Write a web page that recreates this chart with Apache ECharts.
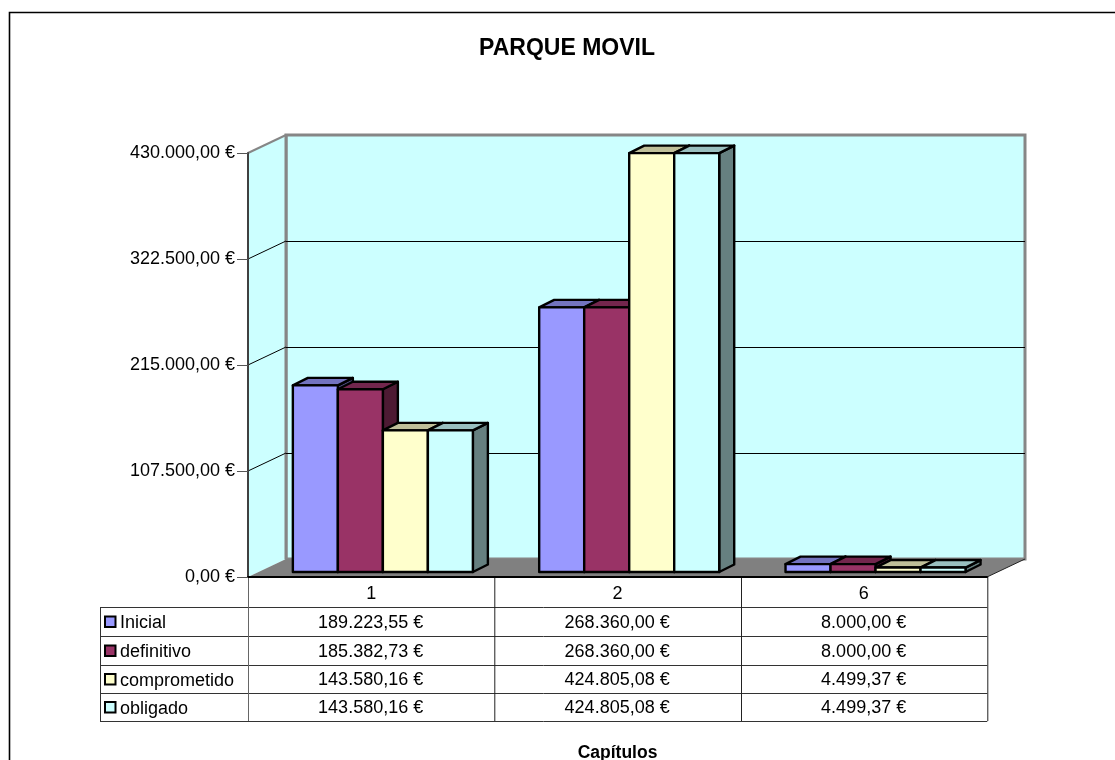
<!DOCTYPE html>
<html><head><meta charset="utf-8">
<style>html,body{margin:0;padding:0;background:#fff}#c{width:1115px;height:760px}</style>
<script src="https://cdn.jsdelivr.net/npm/echarts@6/dist/echarts.min.js"></script>
</head><body><div id="c"></div>
<script>
const categories = ['1', '2', '6'];
const seriesNames = ['Inicial', 'definitivo', 'comprometido', 'obligado'];
const inicial = [189223.55, 268360.00, 8000.00];
const definitivo = [185382.73, 268360.00, 8000.00];
const comprometido = [143580.16, 424805.08, 4499.37];
const obligado = [143580.16, 424805.08, 4499.37];
const axisMax = 430000;
const axisStep = 107500;
const faceColors = ['#9999FF', '#993366', '#FFFFCC', '#CCFFFF'];
const topColors = ['#7373BF', '#73264D', '#BFBF99', '#99BFBF'];
const sideColors = ['#4D4D80', '#4D1A33', '#808066', '#668080'];
const allValues = [inicial, definitivo, comprometido, obligado];

const FONT = 'Liberation Sans, Arial, sans-serif';
const TEXT_SIZE = 18;
const euro = v => {
  const [i, d] = v.toFixed(2).split('.');
  return i.replace(/\B(?=(\d{3})+$)/g, '.') + ',' + d + ' €';
};
// 3D projection of the chart box
const WALL_DX = 38, WALL_DY = -18;
const BAR_OFF_X = 11.7, BAR_OFF_Y = -5, BAR_DX = 15, BAR_DY = -7.5, BAR_BAND = 0.1827;

function bar3d(sIdx) {
  return function (params, api) {
    const cat = api.value(0), val = api.value(1);
    const base = api.coord([cat, 0]);
    const top = api.coord([cat, val]);
    const w = api.size([1, 0])[0] * BAR_BAND;
    const x0 = base[0] + BAR_OFF_X + (sIdx - 2) * w, x1 = x0 + w;
    const yb = base[1] + BAR_OFF_Y, yt = top[1] + BAR_OFF_Y;
    const st = { stroke: '#000', lineWidth: 2.4, lineJoin: 'round' };
    return { type: 'group', children: [
      { type: 'polygon', shape: { points: [[x1, yt], [x1 + BAR_DX, yt + BAR_DY], [x1 + BAR_DX, yb + BAR_DY], [x1, yb]] },
        style: Object.assign({ fill: sideColors[sIdx] }, st) },
      { type: 'polygon', shape: { points: [[x0, yt], [x0 + BAR_DX, yt + BAR_DY], [x1 + BAR_DX, yt + BAR_DY], [x1, yt]] },
        style: Object.assign({ fill: topColors[sIdx] }, st) },
      { type: 'rect', shape: { x: x0, y: yt, width: w, height: yb - yt },
        style: Object.assign({ fill: faceColors[sIdx] }, st) }
    ] };
  };
}
function frame(params, api) {
  const r = params.coordSys, l = r.x, rt = r.x + r.width, t = r.y, b = r.y + r.height;
  const v = api.value(0), y = api.coord([0, v])[1];
  const kids = [];
  if (v === 0) {
    kids.push(
      { type: 'polygon', shape: { points: [[l + WALL_DX, t + WALL_DY], [rt + WALL_DX, t + WALL_DY], [rt + WALL_DX, b + WALL_DY], [l + WALL_DX, b + WALL_DY]] },
        style: { fill: '#CCFFFF', stroke: '#868686', lineWidth: 3 } },
      { type: 'polygon', shape: { points: [[l, t], [l + WALL_DX, t + WALL_DY], [l + WALL_DX, b + WALL_DY], [l, b]] },
        style: { fill: '#CCFFFF', stroke: null } },
      { type: 'line', shape: { x1: l, y1: t, x2: l + WALL_DX, y2: t + WALL_DY }, style: { stroke: '#868686', lineWidth: 2 } },
      { type: 'line', shape: { x1: l + WALL_DX, y1: t + WALL_DY, x2: l + WALL_DX, y2: b + WALL_DY }, style: { stroke: '#868686', lineWidth: 3 } },
      { type: 'polygon', shape: { points: [[l, b], [l + WALL_DX, b + WALL_DY], [rt + WALL_DX, b + WALL_DY], [rt, b]] },
        style: { fill: '#808080', stroke: null } },
      { type: 'line', shape: { x1: rt, y1: b, x2: rt + WALL_DX, y2: b + WALL_DY }, style: { stroke: '#222', lineWidth: 1 } }
    );
  } else if (v < axisMax) {
    kids.push(
      { type: 'line', shape: { x1: l, y1: y, x2: l + WALL_DX, y2: y + WALL_DY }, style: { stroke: '#000', lineWidth: 1 } },
      { type: 'line', shape: { x1: l + WALL_DX, y1: y + WALL_DY + 0.5, x2: rt + WALL_DX, y2: y + WALL_DY + 0.5 }, style: { stroke: '#000', lineWidth: 1 } }
    );
  }
  return { type: 'group', children: kids };
}

// Data table under the plot
const tableLeft = 100, colX = [248, 494.3, 741, 987.3], rowY = [577, 607, 636, 665, 693, 721];
const graphics = [];
graphics.push({ type: 'polyline', silent: true, shape: { points: [[9.5, 760], [9.5, 12.5], [1115, 12.5]] }, style: { fill: null, stroke: '#000', lineWidth: 1.6 }, z: -1 });
rowY.slice(1).forEach(y => graphics.push({ type: 'line', silent: true, shape: { x1: tableLeft, y1: y + .5, x2: colX[3], y2: y + .5 }, style: { stroke: '#333', lineWidth: 1 } }));
graphics.push({ type: 'line', silent: true, shape: { x1: tableLeft + .5, y1: rowY[1], x2: tableLeft + .5, y2: rowY[5] }, style: { stroke: '#333', lineWidth: 1 } });
colX.forEach((x, i) => graphics.push({ type: 'line', silent: true, shape: { x1: x + .5, y1: rowY[0], x2: x + .5, y2: rowY[5] }, style: { stroke: i === 0 ? '#666' : '#222', lineWidth: 1 } }));
seriesNames.forEach((name, s) => {
  const cy = (rowY[s + 1] + rowY[s + 2]) / 2 + 1;
  graphics.push({ type: 'rect', silent: true, shape: { x: 105, y: cy - 6, width: 10.5, height: 10.5 }, style: { fill: faceColors[s], stroke: '#000', lineWidth: 2 } });
  graphics.push({ type: 'text', silent: true, style: { x: 120, y: cy + 1, text: name, font: TEXT_SIZE + 'px ' + FONT, fill: '#000', verticalAlign: 'middle', align: 'left' } });
  allValues[s].forEach((v, c) => graphics.push({ type: 'text', silent: true, style: { x: (colX[c] + colX[c + 1]) / 2 - 0.5, y: cy + 0.5, text: euro(v), font: TEXT_SIZE + 'px ' + FONT, fill: '#000', verticalAlign: 'middle', align: 'center' } }));
});

const tickValues = [];
for (let i = 0; i <= axisMax / axisStep; i++) tickValues.push(i * axisStep);

const chart = echarts.init(document.getElementById('c'), null, { renderer: 'canvas' });
chart.setOption({
  animation: false,
  backgroundColor: '#fff',
  title: { text: 'PARQUE MOVIL', left: 562, top: 32, textAlign: 'center',
    textStyle: { fontFamily: FONT, fontSize: 23, fontWeight: 'bold', color: '#000' } },
  grid: { left: 248, right: 128, top: 153, bottom: 183, containLabel: false, outerBoundsMode: 'none' },
  xAxis: { type: 'category', data: categories, position: 'bottom',
    axisLine: { show: true, lineStyle: { color: '#000', width: 2 } }, axisTick: { show: false },
    axisLabel: { fontFamily: FONT, fontSize: TEXT_SIZE, color: '#000', margin: 8 },
    splitLine: { show: false },
    name: 'Capítulos', nameLocation: 'middle', nameGap: 167,
    nameTextStyle: { fontFamily: FONT, fontSize: 17.5, fontWeight: 'bold', color: '#000' } },
  yAxis: { type: 'value', min: 0, max: axisMax, interval: axisStep,
    axisLine: { show: true, lineStyle: { color: '#404040', width: 2 } },
    axisTick: { show: true, length: 11, lineStyle: { color: '#555', width: 1 } },
    axisLabel: { fontFamily: FONT, fontSize: TEXT_SIZE, color: '#000', margin: 13, padding: [3, 0, 0, 0], formatter: euro },
    splitLine: { show: false } },
  graphic: graphics,
  series: [
    { type: 'custom', name: 'frame', coordinateSystem: 'cartesian2d', silent: true, z: 0,
      encode: { y: 0 }, data: tickValues.map(v => [v]), renderItem: frame, clip: false }
  ].concat(seriesNames.map((n, s) => ({
    type: 'custom', name: n, coordinateSystem: 'cartesian2d', z: 5 + s, clip: false,
    encode: { x: 0, y: 1 },
    data: categories.map((c, i) => [i, allValues[s][i]]),
    renderItem: bar3d(s)
  })))
});
</script></body></html>
